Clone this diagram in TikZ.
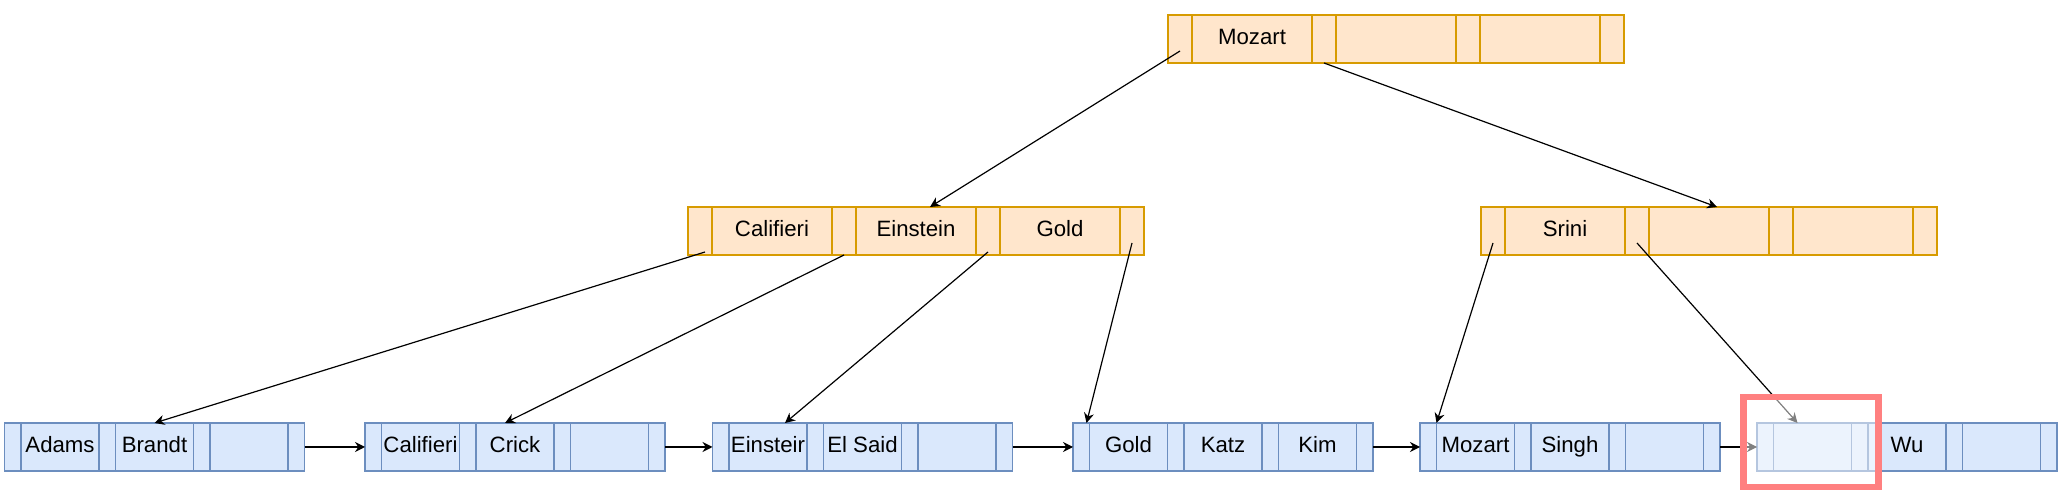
\documentclass[tikz,border=0pt]{standalone}
\usepackage{fontspec}
\setmainfont{Liberation Sans}
\usetikzlibrary{positioning, arrows.meta}
\definecolor{inFill}{HTML}{FFE6CC}
\definecolor{inLine}{HTML}{D79B00}
\definecolor{lfFill}{HTML}{DAE8FC}
\definecolor{lfLine}{HTML}{6C8EBF}
\definecolor{markRed}{HTML}{FF8080}
\tikzset{
    cell/.style={draw, line width=0.8pt, minimum height=24pt, inner sep=0pt, outer sep=0pt, text height=8.2pt, text depth=2.4pt, font=\fontsize{11.1}{13}\selectfont},
    incell/.style={cell, fill=inFill, draw=inLine},
    lfcell/.style={cell, fill=lfFill, draw=lfLine},
    ptr/.style={-{Stealth[length=5pt,width=5pt]}, line width=0.6pt},
}
% one tree node: name, x, y, pointer width, key width, style, three keys
\newcommand{\treenode}[9]{
    \node[#6, minimum width=#4, anchor=north west] (#1-p0) at (#2,#3) {};
    \node[#6, minimum width=#5, right=0pt of #1-p0] (#1-k1) {#7};
    \node[#6, minimum width=#4, right=0pt of #1-k1] (#1-p1) {};
    \node[#6, minimum width=#5, right=0pt of #1-p1] (#1-k2) {#8};
    \node[#6, minimum width=#4, right=0pt of #1-k2] (#1-p2) {};
    \node[#6, minimum width=#5, right=0pt of #1-p2] (#1-k3) {#9};
    \node[#6, minimum width=#4, right=0pt of #1-k3] (#1-p3) {};
}

\begin{document}
\begin{tikzpicture}[x=0.5pt, y=-0.5pt]
            \useasboundingbox (0,0) rectangle (2068,490);
            % inner nodes
            \treenode{root}{1168}{15}{12pt}{60pt}{incell}{Mozart}{}{}
            \treenode{inL}{688}{207}{12pt}{60pt}{incell}{Califieri}{Einstein}{Gold}
            \treenode{inR}{1481}{207}{12pt}{60pt}{incell}{Srini}{}{}
            % leaves
            \treenode{lf1}{4.5}{423}{8.25pt}{39pt}{lfcell}{Adams}{Brandt}{}
            \treenode{lf2}{365}{423}{8.25pt}{39pt}{lfcell}{Califieri}{Crick}{}
            \treenode{lf3}{712.5}{423}{8.25pt}{39pt}{lfcell}{Einsteir}{El Said}{}
            \treenode{lf4}{1073}{423}{8.25pt}{39pt}{lfcell}{Gold}{Katz}{Kim}
            \treenode{lf5}{1420}{423}{8.25pt}{39pt}{lfcell}{Mozart}{Singh}{}
            \treenode{lf6}{1757}{423}{8.25pt}{39pt}{lfcell}{}{Wu}{}
            % child pointers
            \draw[ptr] ([yshift=-6pt]root-p0.center) -- ([xshift=7pt]inL-k2.north);
            \draw[ptr] (root-p1.south) -- ([xshift=4pt]inR-k2.north);
            \draw[ptr] ([xshift=2.5pt,yshift=-10.5pt]inL-p0.center) -- (lf1-k2.north);
            \draw[ptr] (inL-p1.south) -- ([xshift=-5pt]lf2-k2.north);
            \draw[ptr] ([yshift=-10.5pt]inL-p2.center) -- ([xshift=8.5pt]lf3-k1.north);
            \draw[ptr] ([yshift=-6pt]inL-p3.center) -- ([xshift=-1.5pt]lf4-k1.north west);
            \draw[ptr] ([yshift=-6pt]inR-p0.center) -- (lf5-p0.north east);
            \draw[ptr] ([yshift=-6pt]inR-p1.center) -- ([xshift=-7.5pt]lf6-k1.north);
            % leaf chain
            \foreach \a/\b in {1/2,2/3,3/4,4/5,5/6}
                \draw[ptr] (lf\a-p3.east) -- (lf\b-p0.west);
            % highlight
            \draw[markRed, line width=3.25pt, fill=white, fill opacity=0.5] (1743.5,397) rectangle (1878.5,487);
        \end{tikzpicture}
\end{document}
